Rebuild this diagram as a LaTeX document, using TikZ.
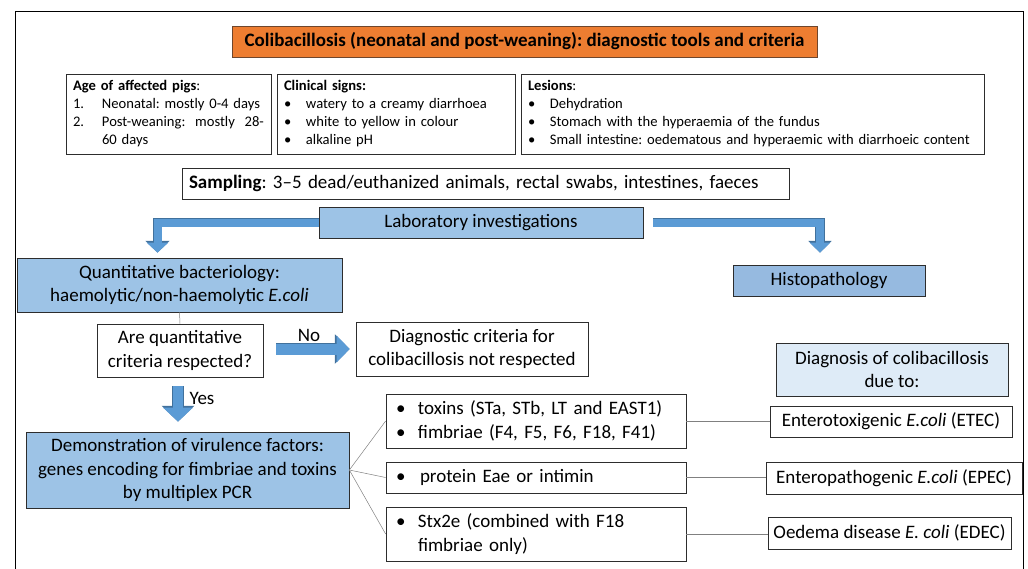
\documentclass[tikz,border=0pt]{standalone}
\usepackage{fontspec}
\setmainfont{Carlito}
\usetikzlibrary{arrows.meta}
\definecolor{carrot}{RGB}{237,125,49}
\definecolor{carrotedge}{RGB}{110,70,45}
\definecolor{skyblue}{RGB}{157,195,230}
\definecolor{steelblue}{RGB}{150,186,224}
\definecolor{paleblue}{RGB}{222,235,247}
\definecolor{arrowblue}{RGB}{91,155,213}
\definecolor{arrowedge}{RGB}{65,113,156}
\definecolor{boxedge}{RGB}{45,45,45}

\newcommand{\bul}{\makebox[22pt][l]{\textbullet}}
\newcommand{\enumno}[1]{\makebox[29pt][l]{#1}}

\tikzset{
  box/.style={draw=boxedge, line width=0.7pt, inner sep=0pt, minimum height=31pt,
    font=\fontsize{19}{23.5}\selectfont, align=center},
  listbox/.style={box, inner xsep=10pt, align=left},
  smallbox/.style={box, inner xsep=7pt, align=left, minimum height=80pt,
    font=\fontsize{14.6}{18}\selectfont},
  titlebox/.style={box, fill=carrot, draw=carrotedge, font=\bfseries\fontsize{19}{22}\selectfont},
  labbox/.style={box, fill=skyblue},
  thinline/.style={draw=gray, line width=0.5pt},
  blockarrow/.style n args={3}{
    preaction={draw=arrowedge, line width=#1+1.2pt,
      -{Triangle[width=#2+2.6pt,length=#3+1.8pt]}},
    draw=arrowblue, line width=#1, -{Triangle[width=#2,length=#3]}},
}

\begin{document}
\frenchspacing
\begin{tikzpicture}[x=1pt, y=-1pt]
\useasboundingbox (0,0) rectangle (1028,568);
\draw[line width=0.8pt] (15,11) rectangle (1023,600);

% header and facts
\node[titlebox, minimum width=585pt] (title) at (524.5,41.5)
  {Colibacillosis (neonatal and post-weaning): diagnostic tools and criteria};
\node[smallbox, text width=191pt] (age) at (168.5,114)
  {\textbf{Age of affected pigs}:\\
   \enumno{1.}Neonatal: mostly 0-4 days\\
   \enumno{2.}Post-weaning:\ \ mostly\ \ 28-\\
   \hspace*{29pt}60 days};
\node[smallbox, text width=224pt] (clin) at (396,114)
  {\textbf{Clinical signs:}\\
   \bul watery to a creamy diarrhoea\\
   \bul white to yellow in colour\\
   \bul alkaline pH};
\node[smallbox, text width=449pt] (les) at (752.5,114)
  {\textbf{Lesions}:\\
   \bul Dehydration\\
   \bul Stomach with the hyperaemia of the fundus\\
   \bul Small intestine: oedematous and hyperaemic with diarrhoeic content};
\node[box, inner xsep=7pt, align=left, text width=593pt] (samp) at (485.5,183.5)
  {\textbf{Sampling}: 3–5 dead/euthanized animals, rectal swabs, intestines, faeces};

% investigations
\node[labbox, minimum width=324pt] (lab) at (481,222.5) {Laboratory investigations};
\node[box, fill=steelblue, minimum width=192pt] (histo) at (829,280.5) {Histopathology};
\node[labbox, minimum width=325pt, minimum height=54pt] (quant) at (179.5,285)
  {Quantitative bacteriology:\\haemolytic/non-haemolytic \textit{E.coli}};
\node[box, minimum width=166pt, minimum height=53pt] (quest) at (180,350.5)
  {Are quantitative\\criteria respected?};
\node[box, minimum width=232pt, minimum height=54pt] (crit) at (472,349)
  {Diagnostic criteria for\\colibacillosis not respected};
\node[box, fill=paleblue, minimum width=232pt, minimum height=53pt] (diag) at (892,369.5)
  {Diagnosis of colibacillosis\\due to:};
\node[labbox, minimum width=323pt, minimum height=76pt] (demo) at (187.5,470)
  {Demonstration of virulence factors:\\genes encoding for fimbriae and toxins\\by multiplex PCR};

% virulence factors and pathotypes
\node[listbox, text width=280pt, minimum height=54pt] (tox) at (536,421)
  {\bul toxins (STa, STb, LT and EAST1)\\\bul fimbriae (F4, F5, F6, F18, F41)};
\node[listbox, text width=280pt] (prot) at (536,477.5)
  {\bul\hspace{2pt}protein Eae or intimin};
\node[listbox, text width=280pt, minimum height=54pt] (stx) at (536,534)
  {\bul Stx2e (combined with F18\\\hspace*{22pt}fimbriae only)};
\node[box, minimum width=242pt] (etec) at (891,421.5) {Enterotoxigenic \textit{E.coli} (ETEC)};
\node[box, minimum width=256pt, minimum height=32pt] (epec) at (894,478) {Enteropathogenic \textit{E.coli} (EPEC)};
\node[box, minimum width=243pt, minimum height=32pt] (edec) at (889.5,533) {Oedema disease \textit{E. coli} (EDEC)};

% connectors
\draw[blockarrow={8pt}{21pt}{10pt}, shorten >=5pt]
  (lab.west) -| ([xshift=-22pt]quant.north);
\draw[blockarrow={8pt}{20pt}{10pt}, shorten >=12pt]
  ([xshift=10pt]lab.east) -| ([xshift=-9pt]histo.north);
\draw[thinline] (quant.south) -- (quest.north);
\draw[blockarrow={11pt}{26pt}{13pt}, shorten <=13pt, shorten >=6pt]
  ([yshift=1.5pt]quest.east) -- ([yshift=1.5pt]quest.east -| crit.west);
\node[font=\fontsize{19}{22}\selectfont] (no) at (309,335) {No};
\draw[blockarrow={10pt}{29pt}{14pt}, shorten <=9pt, shorten >=10pt]
  ([xshift=-2pt]quest.south) -- ([xshift=-2pt]quest.south |- demo.north);
\node[font=\fontsize{19}{22}\selectfont] (yes) at (202,398) {Yes};
\foreach \f in {tox,prot,stx}
  \draw[thinline] (demo.east) -- (\f.west);
\draw[thinline] (tox.east) -- (tox.east -| etec.west);
\draw[thinline] (prot.east) -- (prot.east -| epec.west);
\draw[thinline] (stx.east) -- (stx.east -| edec.west);
\end{tikzpicture}
\end{document}
